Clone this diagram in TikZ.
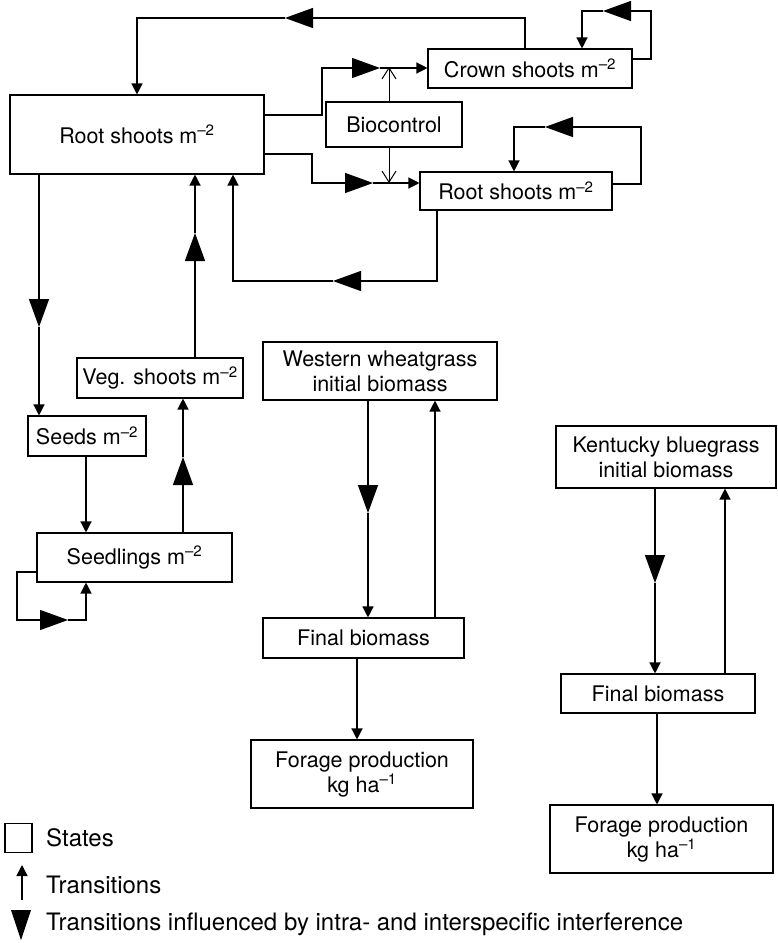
\documentclass[tikz,border=0pt]{standalone}
\usepackage{fontspec}
\setmainfont{TeX Gyre Heros}
\usetikzlibrary{arrows.meta}
\newcommand{\msup}[1]{\textsuperscript{–#1}}
\begin{document}
\begin{tikzpicture}[x=1pt,y=-1pt,
  state/.style={draw, line width=1.1pt, inner sep=0pt, align=center,
    font=\fontsize{21.5}{25}\selectfont},
  conn/.style={line width=1.3pt},
  tr/.style={conn, -{Triangle[width=11pt,length=11pt]}},
  big/.style={conn, -{Triangle[width=20pt,length=28pt]}},
  biov/.style={line width=1pt, -{Straight Barb[width=14pt,length=11pt]}},
  lbl/.style={anchor=west, inner sep=0pt, font=\fontsize{24}{28}\selectfont}]
\useasboundingbox (0,0) rectangle (777,943);

% states
\node[state, minimum width=254pt, minimum height=79pt] (rootA) at (137,134.5) {Root shoots m\msup{2}};
\node[state, minimum width=204pt, minimum height=39pt] (crown) at (530,68.5) {Crown shoots m\msup{2}};
\node[state, minimum width=136pt, minimum height=45pt] (bio) at (394,124.5) {Biocontrol};
\node[state, minimum width=192pt, minimum height=38pt] (rootB) at (516,191) {Root shoots m\msup{2}};
\node[state, minimum width=166pt, minimum height=40pt] (veg) at (160,378) {Veg. shoots m\msup{2}};
\node[state, minimum width=118pt, minimum height=40pt] (seeds) at (87,436) {Seeds m\msup{2}};
\node[state, minimum width=195pt, minimum height=49pt] (seedl) at (134.5,557.5) {Seedlings m\msup{2}};
\node[state, minimum width=234pt, minimum height=58pt] (ww) at (380,371) {Western wheatgrass\\initial biomass};
\node[state, minimum width=201pt, minimum height=40pt] (fin1) at (363.5,638) {Final biomass};
\node[state, minimum width=222pt, minimum height=68pt] (for1) at (362,774) {Forage production\\kg ha\msup{1}};
\node[state, minimum width=220pt, minimum height=62pt] (kb) at (666,457) {Kentucky bluegrass\\initial biomass};
\node[state, minimum width=194pt, minimum height=39pt] (fin2) at (658,693.5) {Final biomass};
\node[state, minimum width=223pt, minimum height=68pt] (for2) at (661.5,839) {Forage production\\kg ha\msup{1}};

% helper coordinates
\coordinate (c1) at (285,18);
\coordinate (c2) at (603,11);
\coordinate (c3) at (380,68);
\coordinate (c4) at (373,183);
\coordinate (c5) at (545,127);
\coordinate (c6) at (333,281);
\coordinate (c7) at (39,327);
\coordinate (c8) at (195,233);
\coordinate (c9) at (183,457);
\coordinate (c10) at (68,620);
\coordinate (c11) at (368,513);
\coordinate (c12) at (655,583);

% crown -> rootA (top loop)
\draw[big] (crown.north -| 525,0) -- (525,18) -- (c1);
\draw[tr] (c1) -- (137,18) -- (rootA.north -| 137,0);
% crown self loop
\draw[big] (crown.east |- 0,59) -- (651,59) -- (651,11) -- (c2);
\draw[tr] (c2) -- (582,11) -- (crown.north -| 582,0);
% rootA -> crown
\draw[big] (rootA.east |- 0,115) -- (322,115) -- (322,68) -- (c3);
\draw[tr] (c3) -- (crown.west |- 0,68);
% biocontrol
\draw[biov] (bio.north -| 389,0) -- (389,67);
\draw[biov] (bio.south -| 389,0) -- (389,183);
% rootA -> rootB
\draw[big] (rootA.east |- 0,154) -- (312,154) -- (312,183) -- (c4);
\draw[tr] (c4) -- (rootB.west |- 0,183);
% rootB self loop
\draw[big] (rootB.east |- 0,184) -- (641,184) -- (641,127) -- (c5);
\draw[tr] (c5) -- (514,127) -- (rootB.north -| 514,0);
% rootB -> rootA
\draw[big] (rootB.south -| 437,0) -- (437,281) -- (c6);
\draw[tr] (c6) -- (233,281) -- (rootA.south -| 233,0);
% rootA -> seeds
\draw[big] (rootA.south -| 39,0) -- (c7);
\draw[tr] (c7) -- (seeds.north -| 39,0);
% veg -> rootA
\draw[big] (veg.north -| 195,0) -- (c8);
\draw[tr] (c8) -- (rootA.south -| 195,0);
% seeds -> seedlings
\draw[tr] (seeds.south -| 86,0) -- (seedl.north -| 86,0);
% seedlings -> veg
\draw[big] (seedl.north -| 183,0) -- (c9);
\draw[tr] (c9) -- (veg.south -| 183,0);
% seedlings self loop
\draw[big] (seedl.west |- 0,572) -- (17,572) -- (17,620) -- (c10);
\draw[tr] (c10) -- (86,620) -- (seedl.south -| 86,0);
% western wheatgrass
\draw[big] (ww.south -| 368,0) -- (c11);
\draw[tr] (c11) -- (fin1.north -| 368,0);
\draw[tr] (fin1.north -| 435,0) -- (ww.south -| 435,0);
\draw[tr] (fin1.south -| 357,0) -- (for1.north -| 357,0);
% kentucky bluegrass
\draw[big] (kb.south -| 655,0) -- (c12);
\draw[tr] (c12) -- (fin2.north -| 655,0);
\draw[tr] (fin2.north -| 725,0) -- (kb.south -| 725,0);
\draw[tr] (fin2.south -| 657,0) -- (for2.north -| 657,0);

% legend
\node[draw, line width=1.1pt, minimum width=27pt, minimum height=29pt, inner sep=0pt] (lgS) at (18.5,838) {};
\node[lbl] (lgSt) at (46,838) {States};
\coordinate (lgA1) at (22,900);
\coordinate (lgA2) at (22,865);
\draw[tr] (lgA1) -- (lgA2);
\node[lbl] (lgTt) at (46,885) {Transitions};
\fill (11,910) -- (31,910) -- (21,940) -- cycle;
\node[lbl] (lgIt) at (46,924) {Transitions influenced by intra- and interspecific interference};
\end{tikzpicture}
\end{document}
